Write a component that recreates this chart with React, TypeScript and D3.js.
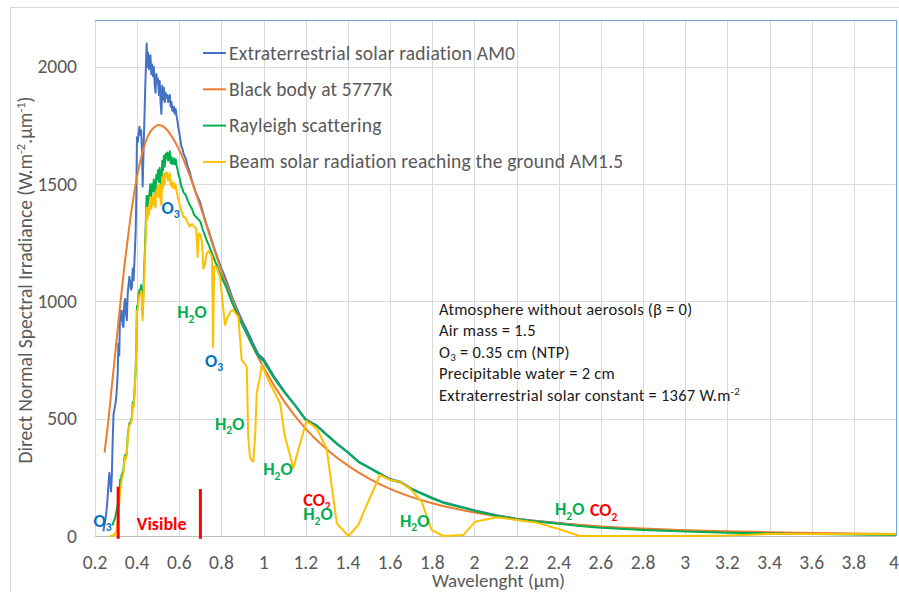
import React from 'react';
import * as d3 from 'd3';

// ---------- data ----------
const xTicks = [0.2, 0.4, 0.6, 0.8, 1, 1.2, 1.4, 1.6, 1.8, 2, 2.2, 2.4, 2.6, 2.8, 3, 3.2, 3.4, 3.6, 3.8, 4];
const yTicks = [0, 500, 1000, 1500, 2000];

const legendLabels = [
  'Extraterrestrial solar radiation AM0',
  'Black body at 5777K',
  'Rayleigh scattering',
  'Beam solar radiation reaching the ground AM1.5',
];
const seriesColors = ['#4472C4', '#ED7D31', '#00B050', '#FFC000'];

// Extraterrestrial AM0 [wavelength µm, W.m-2.µm-1]
const am0: number[][] = [
  [0.240, 20], [0.245, 50], [0.250, 75], [0.255, 110], [0.260, 165], [0.265, 230], [0.268, 270], [0.272, 240],
  [0.276, 190], [0.280, 260], [0.284, 410], [0.288, 520], [0.292, 540], [0.296, 560], [0.300, 585], [0.304, 630],
  [0.308, 700], [0.311, 820], [0.315, 770], [0.319, 960], [0.323, 920], [0.327, 960], [0.331, 900], [0.335, 890],
  [0.339, 990], [0.343, 1010], [0.347, 950], [0.351, 920], [0.355, 1030], [0.359, 1070], [0.363, 1105], [0.367, 1080],
  [0.371, 1050], [0.375, 1060], [0.379, 1140], [0.383, 1090], [0.387, 1170], [0.390, 1230], [0.393, 1300], [0.396, 1450],
  [0.399, 1700], [0.403, 1680], [0.407, 1720], [0.411, 1745], [0.415, 1710], [0.419, 1730], [0.423, 1640], [0.426, 1490],
  [0.432, 1700], [0.438, 1900], [0.445, 2100], [0.449, 2000], [0.452, 2060], [0.456, 1990], [0.460, 2040], [0.463, 2050],
  [0.467, 1970], [0.471, 2010], [0.475, 1960], [0.479, 2000], [0.483, 1930], [0.487, 1890], [0.491, 1970], [0.495, 1930],
  [0.499, 1950], [0.503, 1880], [0.507, 1940], [0.511, 1850], [0.515, 1800], [0.519, 1920], [0.523, 1860], [0.527, 1910],
  [0.531, 1850], [0.535, 1890], [0.539, 1870], [0.543, 1880], [0.547, 1850], [0.551, 1870], [0.555, 1880], [0.559, 1830],
  [0.563, 1850], [0.567, 1815], [0.571, 1810], [0.575, 1830], [0.579, 1800], [0.583, 1820], [0.587, 1790], [0.591, 1770],
  [0.595, 1740], [0.600, 1720], [0.605, 1690], [0.610, 1660], [0.615, 1650], [0.620, 1630], [0.625, 1620], [0.630, 1610],
  [0.640, 1575], [0.650, 1550], [0.660, 1515], [0.670, 1485], [0.680, 1460], [0.690, 1440], [0.700, 1420], [0.710, 1385],
  [0.720, 1355], [0.730, 1325], [0.740, 1300], [0.750, 1270], [0.760, 1245], [0.770, 1215], [0.780, 1190], [0.790, 1165],
  [0.800, 1140], [0.810, 1120], [0.825, 1085], [0.850, 1020], [0.875, 965], [0.900, 915], [0.925, 870], [0.950, 820],
  [0.975, 775], [1.000, 755], [1.050, 680], [1.100, 615], [1.150, 558], [1.200, 497], [1.250, 473], [1.300, 433],
  [1.350, 393], [1.400, 358], [1.450, 318], [1.500, 293], [1.550, 268], [1.600, 243], [1.650, 231], [1.700, 203],
  [1.750, 183], [1.800, 163], [1.850, 145], [1.900, 133], [1.950, 122], [2.000, 110], [2.100, 90], [2.200, 74],
  [2.300, 64], [2.400, 55], [2.500, 46], [2.600, 38], [2.800, 29], [3.000, 22], [3.200, 17], [3.400, 13],
  [3.600, 10], [3.800, 8], [4.000, 6],
];

// Black body at 5777K
const blackBody: number[][] = [
  [0.245, 355], [0.26, 465], [0.28, 640], [0.30, 815], [0.32, 990], [0.34, 1155], [0.36, 1300], [0.38, 1430],
  [0.40, 1535], [0.42, 1618], [0.44, 1680], [0.46, 1720], [0.48, 1742], [0.50, 1752], [0.52, 1748], [0.55, 1722],
  [0.58, 1680], [0.60, 1645], [0.65, 1535], [0.70, 1405], [0.75, 1265], [0.80, 1130], [0.85, 1010], [0.90, 900],
  [0.95, 805], [1.00, 718], [1.1, 571], [1.2, 457], [1.3, 369], [1.4, 300], [1.5, 245], [1.6, 201], [1.7, 167],
  [1.8, 140], [1.9, 118], [2.0, 100], [2.2, 73], [2.4, 54], [2.6, 41], [2.8, 32], [3.0, 25], [3.2, 20], [3.4, 16],
  [3.6, 13], [3.8, 11], [4.0, 9],
];

// Rayleigh scattering only
const rayleigh: number[][] = [
  [0.284, 45], [0.288, 62], [0.292, 68], [0.296, 80], [0.300, 97], [0.304, 115], [0.308, 140], [0.311, 175],
  [0.315, 175], [0.319, 240], [0.323, 240], [0.327, 262], [0.331, 270], [0.335, 280], [0.339, 330], [0.343, 345],
  [0.347, 335], [0.351, 360], [0.355, 420], [0.359, 455], [0.363, 480], [0.367, 485], [0.371, 490], [0.375, 510],
  [0.379, 570], [0.383, 555], [0.387, 610], [0.390, 665], [0.393, 715], [0.396, 805], [0.399, 980], [0.403, 985],
  [0.407, 1030], [0.411, 1050], [0.415, 1045], [0.419, 1070], [0.423, 1030], [0.426, 945], [0.432, 1100], [0.438, 1250],
  [0.445, 1450], [0.449, 1400], [0.452, 1450], [0.456, 1420], [0.460, 1480], [0.463, 1500], [0.467, 1450], [0.471, 1500],
  [0.475, 1470], [0.479, 1520], [0.483, 1480], [0.487, 1460], [0.491, 1540], [0.495, 1520], [0.499, 1560], [0.503, 1510],
  [0.507, 1570], [0.511, 1510], [0.515, 1480], [0.519, 1600], [0.523, 1560], [0.527, 1620], [0.531, 1575], [0.535, 1630],
  [0.539, 1610], [0.543, 1635], [0.547, 1600], [0.551, 1625], [0.555, 1640], [0.559, 1590], [0.563, 1615], [0.567, 1585],
  [0.571, 1590], [0.575, 1610], [0.579, 1585], [0.583, 1605], [0.587, 1580], [0.591, 1565], [0.595, 1545], [0.600, 1530],
  [0.605, 1510], [0.610, 1490], [0.615, 1480], [0.620, 1465], [0.625, 1460], [0.630, 1455], [0.640, 1430], [0.650, 1410],
  [0.660, 1395], [0.670, 1370], [0.680, 1360], [0.690, 1350], [0.700, 1340], [0.710, 1310], [0.720, 1285], [0.730, 1260],
  [0.740, 1240], [0.750, 1215], [0.760, 1195], [0.770, 1170], [0.780, 1150], [0.790, 1125], [0.800, 1105], [0.810, 1085],
  [0.825, 1055], [0.850, 995], [0.875, 945], [0.900, 897], [0.925, 855], [0.950, 808], [0.975, 765], [1.000, 745],
  [1.050, 672], [1.100, 610], [1.150, 555], [1.200, 494], [1.250, 470], [1.300, 430], [1.350, 390], [1.400, 355],
  [1.450, 315], [1.500, 290], [1.550, 265], [1.600, 240], [1.650, 228], [1.700, 200], [1.750, 180], [1.800, 160],
  [1.850, 142], [1.900, 130], [1.950, 119], [2.000, 107], [2.100, 87], [2.200, 71], [2.300, 61], [2.400, 52],
  [2.500, 43], [2.600, 35], [2.800, 26], [3.000, 19], [3.200, 14], [3.400, 11], [3.600, 8], [3.800, 6], [4.000, 4],
];

// Beam solar radiation reaching the ground AM1.5
const beamAM15: number[][] = [
  [0.270, 0], [0.280, 0], [0.288, 3], [0.292, 10], [0.296, 4], [0.300, 15], [0.304, 35], [0.308, 70], [0.311, 115],
  [0.315, 135], [0.319, 200], [0.323, 210], [0.327, 240], [0.331, 255], [0.335, 270], [0.339, 320], [0.343, 337],
  [0.347, 328], [0.351, 353], [0.355, 412], [0.359, 447], [0.363, 472], [0.367, 477], [0.371, 482], [0.375, 502],
  [0.379, 560], [0.383, 545], [0.387, 600], [0.390, 655], [0.393, 700], [0.396, 790], [0.399, 960], [0.403, 965],
  [0.407, 1010], [0.411, 1030], [0.415, 1025], [0.419, 1045], [0.423, 1005], [0.426, 920], [0.432, 1060], [0.438, 1210],
  [0.445, 1400], [0.449, 1350], [0.452, 1400], [0.456, 1370], [0.460, 1425], [0.463, 1445], [0.467, 1395], [0.471, 1440],
  [0.475, 1410], [0.479, 1460], [0.483, 1420], [0.487, 1400], [0.491, 1475], [0.495, 1455], [0.499, 1495], [0.503, 1445],
  [0.507, 1500], [0.511, 1440], [0.515, 1410], [0.519, 1530], [0.523, 1485], [0.527, 1545], [0.531, 1500], [0.535, 1550],
  [0.539, 1530], [0.543, 1550], [0.547, 1515], [0.551, 1535], [0.555, 1545], [0.559, 1495], [0.563, 1515], [0.567, 1485],
  [0.571, 1490], [0.575, 1505], [0.579, 1480], [0.583, 1495], [0.587, 1470], [0.591, 1455], [0.595, 1435], [0.600, 1420],
  [0.605, 1400], [0.610, 1385], [0.615, 1375], [0.620, 1360], [0.625, 1360], [0.630, 1355], [0.640, 1335], [0.650, 1320],
  [0.660, 1330], [0.670, 1320], [0.680, 1310], [0.687, 1190], [0.692, 1290], [0.700, 1285], [0.708, 1250], [0.714, 1140],
  [0.722, 1160], [0.730, 1205], [0.740, 1215], [0.750, 1200], [0.755, 1190], [0.760, 805], [0.765, 1150], [0.777, 1145],
  [0.793, 1105], [0.805, 1000], [0.817, 900], [0.830, 935], [0.845, 960], [0.856, 963], [0.870, 945], [0.880, 935],
  [0.896, 750], [0.910, 735], [0.920, 720], [0.927, 420], [0.935, 338], [0.945, 320], [0.951, 317], [0.960, 430],
  [0.967, 608], [0.983, 679], [0.991, 729], [1.030, 651], [1.078, 566], [1.100, 430], [1.141, 289], [1.173, 395],
  [1.204, 490], [1.252, 459], [1.299, 372], [1.347, 54], [1.402, 0], [1.449, 47], [1.500, 155], [1.552, 260],
  [1.600, 239], [1.647, 231], [1.694, 203], [1.750, 146], [1.797, 26], [1.852, 0], [1.947, 4], [2.003, 61],
  [2.106, 80], [2.216, 66], [2.295, 57], [2.400, 30], [2.500, 0], [3.000, 0], [3.200, 2], [3.400, 8], [3.600, 9],
  [3.800, 8], [4.000, 7],
];

// Absorption labels: species, wavelength, irradiance, colour
const absSpecies = ['O3', 'H2O', 'O3', 'H2O', 'H2O', 'CO2', 'H2O', 'O3', 'H2O', 'H2O', 'CO2'];
const absWavelength = [0.516, 0.59, 0.722, 0.769, 0.998, 1.188, 1.188, 0.193, 1.647, 2.382, 2.548];
const absIrradiance = [1375, 928, 721, 452, 260, 130, 68, 40, 40, 89, 84];
const absColors = ['#0070C0', '#00B050', '#0070C0', '#00B050', '#00B050', '#FF0000', '#00B050', '#0070C0', '#00B050', '#00B050', '#FF0000'];

// Visible band limits [wavelength, marker height]
const visibleLimits: number[][] = [[0.31, 210], [0.70, 200]];
const visibleLabel = { text: 'Visible', wavelength: 0.398, irradiance: 26 };

const FONT = "Carlito, Calibri, Lato, 'Open Sans', sans-serif";

function Chem({ s, x, y, size, color }: { s: string; x: number; y: number; size: number; color: string }) {
  const parts: React.ReactNode[] = [];
  let shifted = false;
  s.split('').forEach((ch, i) => {
    const isDigit = /[0-9]/.test(ch);
    if (isDigit && !shifted) {
      parts.push(<tspan key={i} dy={size * 0.25} fontSize={size * 0.64}>{ch}</tspan>);
      shifted = true;
    } else if (!isDigit && shifted) {
      parts.push(<tspan key={i} dy={-size * 0.25}>{ch}</tspan>);
      shifted = false;
    } else {
      parts.push(<tspan key={i}>{ch}</tspan>);
    }
  });
  return (
    <text x={x} y={y} fill={color} fontSize={size} fontWeight="bold" fontFamily={FONT}>{parts}</text>
  );
}

export default function App() {
  const W = 899, H = 592;
  const left = 95, right = 896, top = 20, bottom = 536;
  const x = d3.scaleLinear().domain([0.2, 4]).range([left, right]);
  const y = d3.scaleLinear().domain([0, 2200]).range([bottom, top]);
  const line = d3.line<number[]>().x(d => x(d[0])).y(d => y(d[1]));
  const smooth = d3.line<number[]>().x(d => x(d[0])).y(d => y(d[1])).curve(d3.curveMonotoneX);

  const series = [am0, blackBody, rayleigh, beamAM15];
  const fmt = (v: number) => String(+v.toFixed(1));
  const grey = '#595959';
  const gridC = '#D9D9D9';

  return (
    <div style={{ position: 'absolute', left: 0, top: 0, width: W, height: H, background: '#fff' }}>
      <svg width={W} height={H} style={{ display: 'block' }} fontFamily={FONT}>
        <rect x={0} y={0} width={W} height={H} fill="#fff" />
        <rect x={10.5} y={7.5} width={W + 10} height={H + 10} fill="none" stroke={gridC} strokeWidth={1} />
        {/* gridlines */}
        {xTicks.slice(1, -1).map(t => (
          <line key={'gx' + t} x1={Math.round(x(t)) + 0.5} x2={Math.round(x(t)) + 0.5} y1={top} y2={bottom} stroke={gridC} strokeWidth={1} />
        ))}
        {yTicks.slice(1).map(t => (
          <line key={'gy' + t} x1={left} x2={right} y1={Math.round(y(t)) + 0.5} y2={Math.round(y(t)) + 0.5} stroke={gridC} strokeWidth={1} />
        ))}
        {/* plot area border */}
        <line x1={left + 0.5} x2={left + 0.5} y1={top} y2={bottom} stroke={gridC} />
        <line x1={left} x2={right} y1={bottom + 0.5} y2={bottom + 0.5} stroke="#BFBFBF" />
        <line x1={left} x2={right} y1={top + 0.5} y2={top + 0.5} stroke="#6FA8DC" />
        <line x1={right + 0.5} x2={right + 0.5} y1={top} y2={bottom} stroke="#6FA8DC" />

        {/* series */}
        {series.map((d, i) => (
          <path key={'s' + i} d={(i === 1 ? smooth(d) : line(d)) || ''} fill="none" stroke={seriesColors[i]} strokeWidth={2} strokeLinejoin="round" />
        ))}

        {/* tick labels */}
        {xTicks.map((t, i) => (
          <text key={'tx' + t} x={i === xTicks.length - 1 ? x(t) - 2 : x(t)} y={569} textAnchor="middle" fontSize={19.5} fill={grey}>{fmt(t)}</text>
        ))}
        {yTicks.map(t => (
          <text key={'ty' + t} x={77} y={y(t) + 6.5} textAnchor="end" fontSize={19.5} fill={grey}>{t}</text>
        ))}
        {/* axis titles */}
        <text x={(left + right) / 2 + 3} y={587} textAnchor="middle" fontSize={19} fill={grey}>Wavelenght (µm)</text>
        <text transform={`translate(32,${(top + bottom) / 2 + 2}) rotate(-90)`} textAnchor="middle" fontSize={19.5} fill={grey}>
          Direct Normal Spectral Irradiance (W.m<tspan dy={-7} fontSize={12.5}>-2</tspan><tspan dy={7}>.µm</tspan><tspan dy={-7} fontSize={12.5}>-1</tspan><tspan dy={7}>)</tspan>
        </text>

        {/* legend */}
        {legendLabels.map((l, i) => (
          <g key={'lg' + i}>
            <line x1={203} x2={226} y1={53 + i * 36.3} y2={53 + i * 36.3} stroke={seriesColors[i]} strokeWidth={2} />
            <text x={229} y={53 + i * 36.3 + 6.5} fontSize={19.5} letterSpacing={0.2} fill={grey}>{l}</text>
          </g>
        ))}

        {/* annotation */}
        <g fontSize={16.5} letterSpacing={0.25} fill="#1A1A1A">
          <text x={439} y={314.5}>Atmosphere without aerosols (β = 0)</text>
          <text x={439} y={336}>Air mass = 1.5</text>
          <text x={439} y={357.5}>O<tspan dy={3.5} fontSize={11}>3</tspan><tspan dy={-3.5}> = 0.35 cm (NTP)</tspan></text>
          <text x={439} y={379}>Precipitable water = 2 cm</text>
          <text x={439} y={400.5}>Extraterrestrial solar constant = 1367 W.m<tspan dy={-6} fontSize={11}>-2</tspan></text>
        </g>

        {/* absorption labels */}
        {absSpecies.map((s, i) => (
          <Chem key={'ab' + i} s={s} x={x(absWavelength[i])} y={y(absIrradiance[i])} size={18} color={absColors[i]} />
        ))}

        {/* visible band */}
        {visibleLimits.map((v, i) => (
          <line key={'vl' + i} x1={x(v[0])} x2={x(v[0])} y1={y(v[1])} y2={y(-12)} stroke="#FF0000" strokeWidth={3} />
        ))}
        <text x={x(visibleLabel.wavelength)} y={y(visibleLabel.irradiance)} fontSize={18} fontWeight="bold" fill="#FF0000">{visibleLabel.text}</text>
      </svg>
    </div>
  );
}
